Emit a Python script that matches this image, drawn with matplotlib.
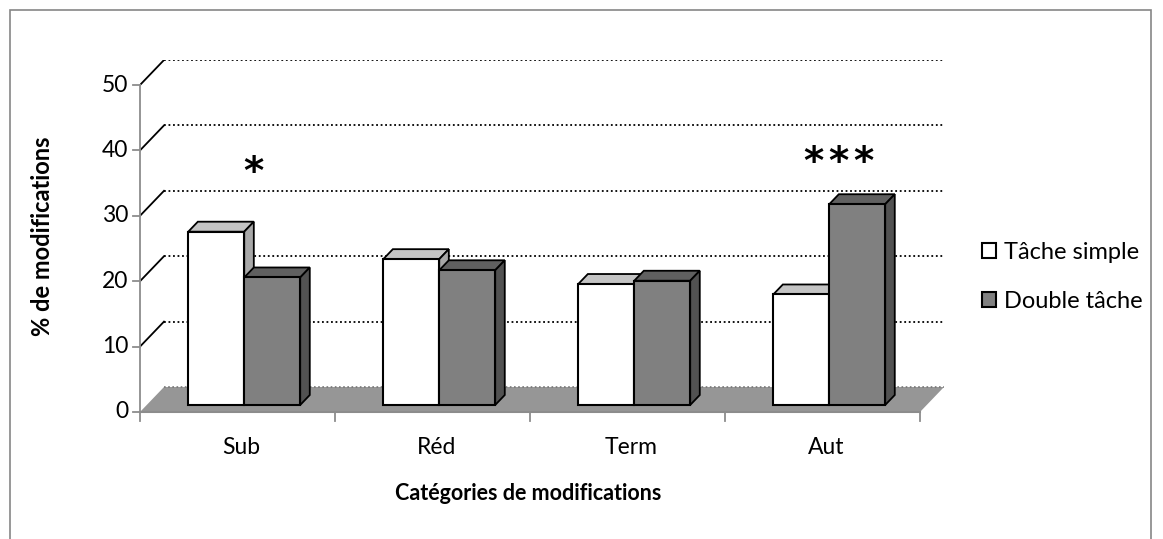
import matplotlib
matplotlib.use("Agg")
import matplotlib.pyplot as plt
from matplotlib.patches import Polygon, Rectangle

categories = ["Sub", "Réd", "Term", "Aut"]
tache_simple = [26.5, 22.3, 18.5, 16.9]
double_tache = [19.5, 20.6, 19.0, 30.7]
y_ticks = [0, 10, 20, 30, 40, 50]
stars = {"Sub": 1, "Aut": 3}

plt.rcParams["font.family"] = ["Lato", "DejaVu Sans"]

W, H = 1163, 539
fig = plt.figure(figsize=(W / 100, H / 100), dpi=100)

# fake 3d: depth of the back wall, in data units
ddx, ddy = 0.123, 3.82
n = len(categories)
ymax = 50

# axes placed so that the front plane runs 140..920 px, 0..50 -> 412..85 px
px_x = 195.0
px_y = 6.54
left, bottom_px = 140, 412
ax = fig.add_axes([left / W, (H - bottom_px) / H,
                   (n + ddx) * px_x / W, (ymax + ddy) * px_y / H])
ax.set_xlim(0, n + ddx)
ax.set_ylim(0, ymax + ddy)
ax.axis("off")

# outer frame
fig.patches.append(Rectangle((10 / W, -0.05), (1151 - 10) / W, (H - 10) / H + 0.05,
                             transform=fig.transFigure, fill=False,
                             edgecolor="#868686", linewidth=1.2))

# floor
ax.add_patch(Polygon([(0, 0), (n, 0), (n + ddx, ddy), (ddx, ddy)], closed=True,
                     facecolor="#969696", edgecolor="none", zorder=1))
ax.plot([ddx, n + ddx], [ddy, ddy], color="#777777", linestyle=(0, (1, 1.5)),
        linewidth=1.2, zorder=1.5)

# back wall gridlines + left wall diagonals
for v in y_ticks[1:]:
    ax.plot([ddx, n + ddx], [v + ddy, v + ddy], color="black",
            linestyle=(0, (1, 1.5)), linewidth=1.3, zorder=1)
    ax.plot([0, ddx], [v, v + ddy], color="black", linewidth=1.3, zorder=1)

# value axis
ax.plot([0, 0], [0, ymax], color="#8c8c8c", linewidth=1.3, zorder=2, clip_on=False)
for v in y_ticks:
    ax.plot([-7 / px_x, 0], [v, v], color="#8c8c8c", linewidth=1.3, clip_on=False)
    ax.text(-12 / px_x, v, str(v), ha="right", va="center", fontsize=16.5)

# category axis
ax.plot([0, n], [0, 0], color="#8c8c8c", linewidth=1.5, zorder=6, clip_on=False)
for i in range(n + 1):
    ax.plot([i, i], [0, -9 / px_y], color="#8c8c8c", linewidth=1.3, clip_on=False)
for i, c in enumerate(categories):
    ax.text(i + 0.52, -36 / px_y, c, ha="center", va="center", fontsize=16.5)

# bars
w = 0.287
d0, d1 = 0.28, 0.4  # bar front depth, bar thickness
sx, sy = d0 * ddx, d0 * ddy
bx, by = d1 * ddx, d1 * ddy
series = [
    (tache_simple, "white", "#c4c4c4", "#a8a8a8", "Tâche simple"),
    (double_tache, "#808080", "#606060", "#525252", "Double tâche"),
]
x_front = [i + 0.5 + sx for i in range(n)]
for j, (vals, front, top, side, label) in enumerate(series):
    xs = [x - w + j * w for x in x_front]
    for x0, v in zip(xs, vals):
        z = 3 + j
        top_y = sy + v
        ax.add_patch(Polygon([(x0, top_y), (x0 + w, top_y), (x0 + w + bx, top_y + by),
                              (x0 + bx, top_y + by)], closed=True, facecolor=top,
                             edgecolor="black", linewidth=1.3, zorder=z))
        ax.add_patch(Polygon([(x0 + w, sy), (x0 + w + bx, sy + by), (x0 + w + bx, top_y + by),
                              (x0 + w, top_y)], closed=True, facecolor=side,
                             edgecolor="black", linewidth=1.3, zorder=z))
    ax.bar(xs, vals, width=w, bottom=sy, align="edge", color=front,
           edgecolor="black", linewidth=1.5, zorder=3 + j, label=label)

# significance stars, drawn one by one
for c, k in stars.items():
    i = categories.index(c)
    y_star = 34.8 if k == 1 else 36.4
    for s in range(k):
        xo = (s - (k - 1) / 2) * 25 / px_x
        ax.text(i + 0.58 + xo, y_star, "*", ha="center", va="baseline",
                fontsize=28, fontweight="bold", fontfamily="DejaVu Sans")

# x / y titles
fig.text(528 / W, 1 - 493 / H, "Catégories de modifications", ha="center", va="center",
         fontsize=15.5, fontweight="bold")
fig.text(43 / W, 1 - 236 / H, "% de modifications", ha="center", va="center",
         fontsize=17, fontweight="bold", rotation=90)

# legend
leg = fig.legend(loc="center left", bbox_to_anchor=(961 / W, 1 - 277 / H), frameon=False,
                 fontsize=17, handlelength=0.6, handleheight=0.6, handletextpad=0.3,
                 labelspacing=1.2)

fig.savefig("out.png", dpi=100)
